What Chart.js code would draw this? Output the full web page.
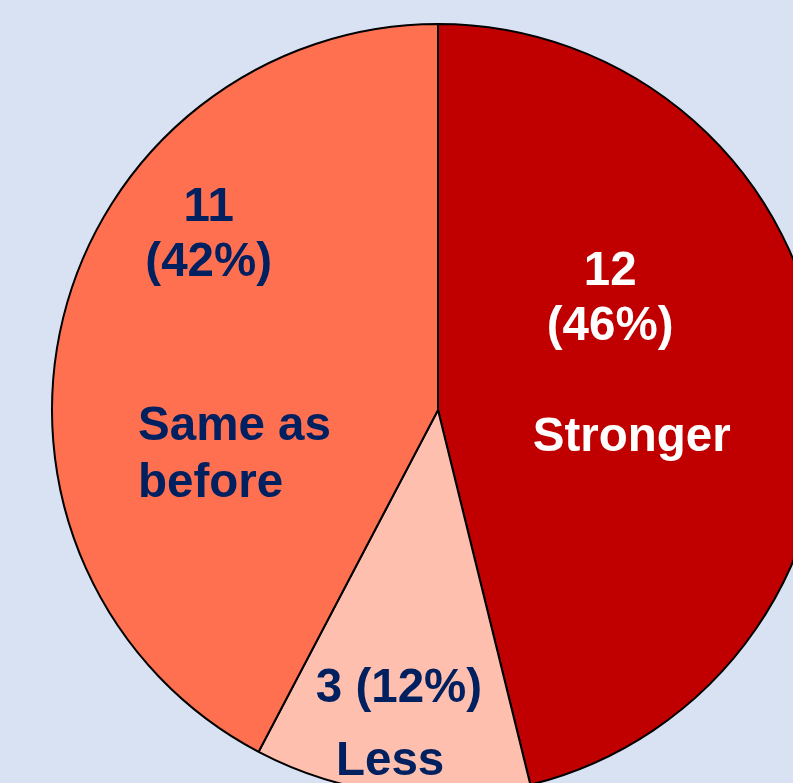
<!DOCTYPE html>
<html>
<head>
<meta charset="utf-8">
<script src="https://cdn.jsdelivr.net/npm/chart.js@4/dist/chart.umd.min.js"></script>
<style>
  html, body { margin: 0; padding: 0; width: 793px; height: 783px; overflow: hidden; background: #D9E2F3; }
  #wrap { position: relative; width: 793px; height: 783px; overflow: hidden; }
  #c { position: absolute; left: 0; top: 0; }
</style>
</head>
<body>
<div id="wrap"><canvas id="c" width="876" height="820"></canvas></div>
<script>
const categories = ["Stronger", "Less", "Same as before"];
const counts = [12, 3, 11];
const percents = [46, 12, 42];
const sliceColors = ["#C00000", "#FFBFAE", "#FF7050"];
const textColors = ["#FFFFFF", "#002060", "#002060"];

// label layout: offsets from the pie centre in units of the radius
const labelLayout = [
  { lines: [[String(counts[0]), 0.446, -0.324, "center"], ["(" + percents[0] + "%)", 0.446, -0.181, "center"], ["Stronger", 0.502, 0.106, "center"]] },
  { lines: [[counts[1] + " (" + percents[1] + "%)", -0.101, 0.756, "center"], ["Less", -0.124, 0.945, "center"]] },
  { lines: [[String(counts[2]), -0.594, -0.490, "center"], ["(" + percents[2] + "%)", -0.594, -0.347, "center"], ["Same as", -0.777, 0.078, "left"], ["before", -0.777, 0.225, "left"]] }
];

const labelPlugin = {
  id: "sliceLabels",
  afterDatasetsDraw(chart) {
    const ctx = chart.ctx;
    const meta = chart.getDatasetMeta(0);
    meta.data.forEach((arc, i) => {
      const { x, y, outerRadius } = arc.getProps(["x", "y", "outerRadius"], true);
      ctx.save();
      ctx.font = "bold 47.5px 'Liberation Sans', Arial, sans-serif";
      ctx.fillStyle = textColors[i];
      ctx.textBaseline = "alphabetic";
      labelLayout[i].lines.forEach(([t, dx, dy, align]) => {
        ctx.textAlign = align;
        ctx.fillText(t, x + dx * outerRadius, y + dy * outerRadius);
      });
      ctx.restore();
    });
  }
};

new Chart(document.getElementById("c"), {
  type: "pie",
  data: {
    labels: categories,
    datasets: [{
      data: counts,
      backgroundColor: sliceColors,
      borderColor: "#000000",
      borderWidth: 2,
      borderAlign: "center"
    }]
  },
  options: {
    responsive: false,
    animation: false,
    devicePixelRatio: 1,
    radius: 386,
    layout: { padding: 0 },
    plugins: {
      legend: { display: false },
      tooltip: { enabled: false },
      title: { display: false }
    }
  },
  plugins: [labelPlugin]
});
</script>
</body>
</html>
